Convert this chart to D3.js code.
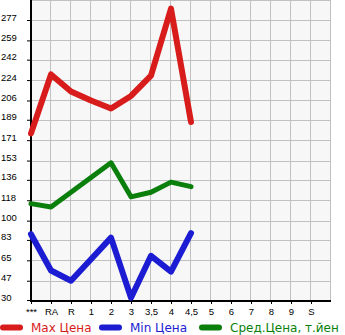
<!DOCTYPE html>
<html>
<head>
<meta charset="utf-8">
<script src="https://cdn.jsdelivr.net/npm/d3@7"></script>
<style>
  body { margin: 0; background: #fff; }
  svg { display: block; font-family: "DejaVu Sans", sans-serif; }
  .tick text { fill: #000; }
</style>
</head>
<body>
<div id="chart"></div>
<script>
// data
const categories = ["***", "RA", "R", "1", "2", "3", "3,5", "4", "4,5", "5", "6", "7", "8", "9", "S"];
const maxPrice = [177, 229, 214, 206, 199, 210, 228, 287, 187, null, null, null, null, null, null];
const minPrice = [88, 56, 47, 66, 85, 32, 69, 55, 89, null, null, null, null, null, null];
const avgPrice = [115, 112, 125, 138, 151, 121, 125, 134, 130, null, null, null, null, null, null];
const yTicks = [30, 47, 65, 83, 100, 118, 136, 153, 171, 189, 206, 224, 242, 259, 277];

const series = [
    { name: "Max Цена", values: maxPrice, color: "#d81c1c", width: 6, legendX: 0 },
    { name: "Min Цена", values: minPrice, color: "#1c1cd2", width: 6, legendX: 99 },
    { name: "Сред.Цена, т.йен", values: avgPrice, color: "#0b7f0b", width: 5, legendX: 199 }
];

const W = 345, H = 335;
const plot = { left: 31, right: 331, top: 0, bottom: 301 };

const svg = d3.select("#chart").append("svg")
    .attr("width", W)
    .attr("height", H);

const x = d3.scalePoint()
    .domain(categories)
    .range([plot.left, plot.right - 20]);

const y = d3.scaleLinear()
    .domain([30, 277])
    .range([300, 20]);

// plot background
svg.append("rect")
    .attr("x", plot.left).attr("y", plot.top)
    .attr("width", plot.right - plot.left).attr("height", plot.bottom - plot.top)
    .attr("fill", "#f7f7f7");

// grid
const grid = svg.append("g").attr("stroke", "#c0c0c0").attr("stroke-width", 1);
categories.concat(["_end"]).forEach(c => {
    const gx = Math.round(c === "_end" ? plot.right : x(c)) - 0.5;
    grid.append("line").attr("x1", gx).attr("x2", gx).attr("y1", plot.top).attr("y2", plot.bottom);
});
yTicks.concat([null]).forEach(v => {
    const gy = (v === null ? 0 : Math.round(y(v))) + 0.5;
    grid.append("line").attr("x1", plot.left).attr("x2", plot.right).attr("y1", gy).attr("y2", gy);
});

// axes
const yAxis = svg.append("g")
    .attr("transform", `translate(${plot.left},0)`)
    .call(d3.axisLeft(y).tickValues(yTicks).tickSize(4).tickSizeOuter(0));
yAxis.select(".domain").remove();
yAxis.selectAll("text")
    .attr("text-anchor", "start")
    .attr("x", -30)
    .attr("dy", "0")
    .attr("font-size", 9.5);

const xAxis = svg.append("g")
    .attr("transform", `translate(0,${plot.bottom})`)
    .call(d3.axisBottom(x).tickSize(3).tickPadding(4).tickSizeOuter(0));
xAxis.select(".domain").remove();
xAxis.selectAll("text").attr("font-size", 9.5);
svg.selectAll(".tick line").attr("stroke", "#000");

svg.append("line")
    .attr("x1", plot.left).attr("x2", plot.left).attr("y1", 0).attr("y2", plot.bottom + 1)
    .attr("stroke", "#000").attr("stroke-width", 2);
svg.append("line")
    .attr("x1", plot.left - 1).attr("x2", plot.right).attr("y1", plot.bottom).attr("y2", plot.bottom)
    .attr("stroke", "#000").attr("stroke-width", 2);

// lines
const line = d3.line()
    .defined(d => d.v !== null)
    .x(d => x(d.c))
    .y(d => y(d.v));

for (const s of series) {
    const pts = categories.map((c, i) => ({ c: c, v: s.values[i] }));
    svg.append("path")
        .datum(pts)
        .attr("d", line)
        .attr("fill", "none")
        .attr("stroke", s.color)
        .attr("stroke-width", s.width)
        .attr("stroke-linejoin", "round")
        .attr("stroke-linecap", "round");
}

// legend
const legend = svg.append("g");
for (const s of series) {
    legend.append("line")
        .attr("x1", s.legendX + 3).attr("x2", s.legendX + 20)
        .attr("y1", 327.5).attr("y2", 327.5)
        .attr("stroke", s.color).attr("stroke-width", 6)
        .attr("stroke-linecap", "round");
    legend.append("text")
        .attr("x", s.legendX + 31).attr("y", 332)
        .attr("font-size", 12)
        .attr("fill", s.color)
        .text(s.name);
}
</script>
</body>
</html>
